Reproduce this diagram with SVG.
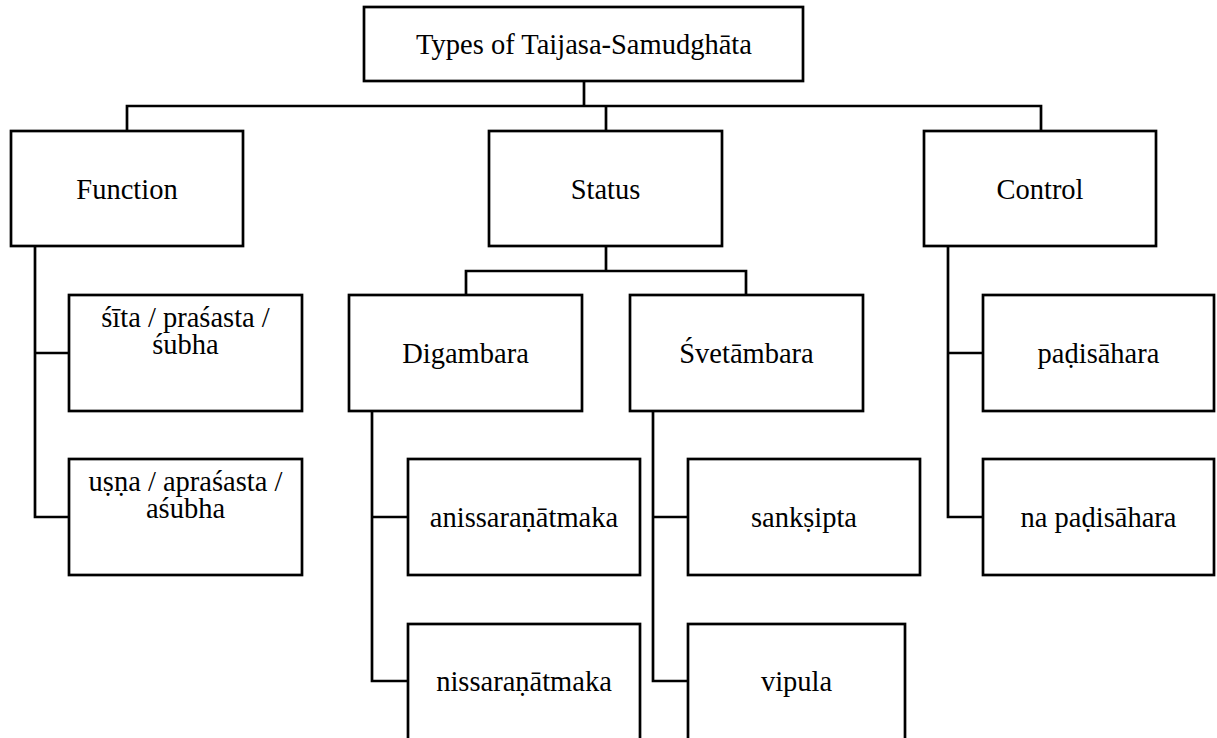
<svg xmlns="http://www.w3.org/2000/svg" width="1217" height="738" viewBox="0 0 1217 738">
  <style>
    .box { fill: #ffffff; stroke: #000000; stroke-width: 2.7; }
    .link { fill: none; stroke: #000000; stroke-width: 2.7; stroke-linecap: square; }
    .lbl { font-family: Liberation Serif, Tinos, Noto Serif, FreeSerif, DejaVu Serif, Times, serif; font-size: 28.5px; fill: #000000; text-anchor: middle; }
  </style>
  <rect width="1217" height="738" fill="#ffffff"/>

  <!-- connectors -->
  <g id="connectors">
    <path class="link" d="M584 81 V106 M127 106 H1041 M127 106 V131 M606 106 V131 M1041 106 V131"/>
    <path class="link" d="M35 246 V517 M35 353 H69 M35 517 H69"/>
    <path class="link" d="M606 246 V271 M466 271 H746 M466 271 V295 M746 271 V295"/>
    <path class="link" d="M372 411 V681 M372 517 H408 M372 681 H408"/>
    <path class="link" d="M653 411 V681 M653 517 H688 M653 681 H688"/>
    <path class="link" d="M948 246 V517 M948 353 H983 M948 517 H983"/>
  </g>

  <g id="root">
    <rect class="box" x="364" y="7" width="439" height="74"/>
    <text class="lbl" x="584" y="54">Types of Taijasa-Samudghāta</text>
  </g>

  <g id="function">
    <rect class="box" x="11" y="131" width="232" height="115"/>
    <text class="lbl" x="127" y="199">Function</text>
  </g>
  <g id="status">
    <rect class="box" x="489" y="131" width="233" height="115"/>
    <text class="lbl" x="605.5" y="199">Status</text>
  </g>
  <g id="control">
    <rect class="box" x="924" y="131" width="232" height="115"/>
    <text class="lbl" x="1040" y="199">Control</text>
  </g>

  <g id="sita">
    <rect class="box" x="69" y="295" width="233" height="116"/>
    <text class="lbl" x="185.5" y="327">śīta / praśasta /<tspan x="185.5" dy="27">śubha</tspan></text>
  </g>
  <g id="usna">
    <rect class="box" x="69" y="459" width="233" height="116"/>
    <text class="lbl" x="185.5" y="491">uṣṇa / apraśasta /<tspan x="185.5" dy="27">aśubha</tspan></text>
  </g>

  <g id="digambara">
    <rect class="box" x="349" y="295" width="233" height="116"/>
    <text class="lbl" x="465.5" y="363">Digambara</text>
  </g>
  <g id="svetambara">
    <rect class="box" x="630" y="295" width="233" height="116"/>
    <text class="lbl" x="746.5" y="363">Śvetāmbara</text>
  </g>

  <g id="anissarana">
    <rect class="box" x="408" y="459" width="232" height="116"/>
    <text class="lbl" x="524" y="527">anissaraṇātmaka</text>
  </g>
  <g id="nissarana">
    <rect class="box" x="408" y="624" width="232" height="140"/>
    <text class="lbl" x="524" y="691">nissaraṇātmaka</text>
  </g>

  <g id="sanksipta">
    <rect class="box" x="688" y="459" width="232" height="116"/>
    <text class="lbl" x="804" y="527">sankṣipta</text>
  </g>
  <g id="vipula">
    <rect class="box" x="688" y="624" width="217" height="140"/>
    <text class="lbl" x="796.5" y="691">vipula</text>
  </g>

  <g id="padisahara">
    <rect class="box" x="983" y="295" width="231" height="116"/>
    <text class="lbl" x="1098.5" y="363">paḍisāhara</text>
  </g>
  <g id="na-padisahara">
    <rect class="box" x="983" y="459" width="231" height="116"/>
    <text class="lbl" x="1098.5" y="527">na paḍisāhara</text>
  </g>
</svg>
